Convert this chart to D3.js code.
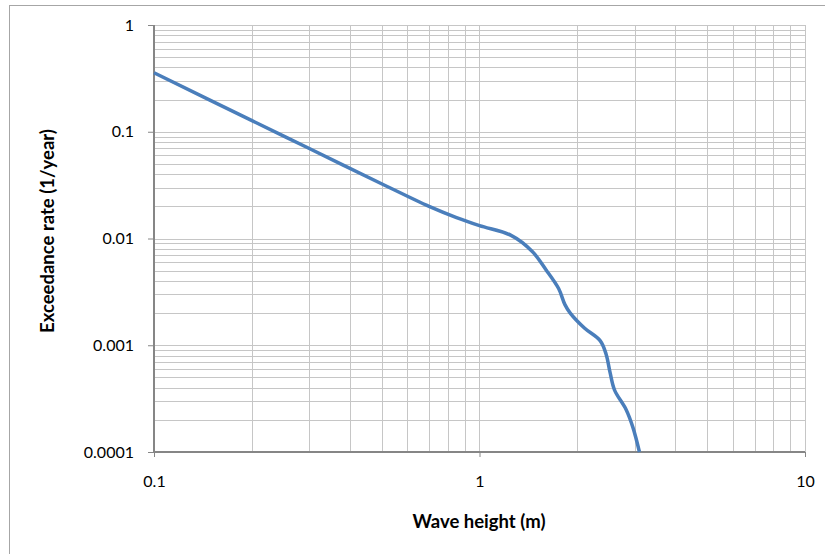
<!DOCTYPE html>
<html>
<head>
<meta charset="utf-8">
<script src="https://cdn.jsdelivr.net/npm/d3@7"></script>
<style>
  html, body { margin: 0; padding: 0; background: #fff; }
  svg { display: block; }
  text { font-family: Lato, "Liberation Sans", Arial, sans-serif; fill: #000; }
</style>
</head>
<body>
<svg id="chart" width="825" height="554"></svg>
<script>
// ---- data ----
const waveHeight = [0.1, 0.2, 0.3, 0.5, 0.7, 0.85, 1.0, 1.25, 1.45, 1.6, 1.75, 1.83, 1.9, 2.1, 2.35, 2.45, 2.52, 2.6, 2.82, 2.96, 3.1];
const exceedanceRate = [0.357, 0.127, 0.0696, 0.0326, 0.0200, 0.0157, 0.0132, 0.0107, 0.0076, 0.0051, 0.0034, 0.0024, 0.0020, 0.00145, 0.0011, 0.00082, 0.00055, 0.00038, 0.00025, 0.00017, 0.0001];
const xTickValues = [0.1, 1, 10];
const xTickLabels = ["0.1", "1", "10"];
const yTickValues = [1, 0.1, 0.01, 0.001, 0.0001];
const yTickLabels = ["1", "0.1", "0.01", "0.001", "0.0001"];
const xTitle = "Wave height (m)";
const yTitle = "Exceedance rate (1/year)";

// ---- layout ----
const svg = d3.select("#chart");
const plot = { left: 154, right: 805, top: 25, bottom: 452 };

const x = d3.scaleLog().domain([0.1, 10]).range([plot.left, plot.right]);
const y = d3.scaleLog().domain([0.0001, 1]).range([plot.bottom, plot.top]);

// outer chart border
svg.append("rect")
  .attr("x", 9.5).attr("y", 5.5)
  .attr("width", 840).attr("height", 580)
  .attr("fill", "#fff").attr("stroke", "#a6a6a6").attr("stroke-width", 1);

function logGrid(lo, hi) {
  const vals = [];
  for (let e = Math.round(Math.log10(lo)); e < Math.round(Math.log10(hi)); e++) {
    for (let m = 1; m <= 9; m++) vals.push(m * Math.pow(10, e));
  }
  vals.push(hi);
  return vals;
}
const xGrid = logGrid(0.1, 10);
const yGrid = logGrid(0.0001, 1);

const g = svg.append("g");
g.selectAll("line.vx").data(xGrid).enter().append("line")
  .attr("x1", d => Math.round(x(d)) + 0.5).attr("x2", d => Math.round(x(d)) + 0.5)
  .attr("y1", plot.top).attr("y2", plot.bottom)
  .attr("stroke", "#c6c6c6").attr("stroke-width", 1);
g.selectAll("line.hy").data(yGrid).enter().append("line")
  .attr("y1", d => Math.round(y(d)) + 0.5).attr("y2", d => Math.round(y(d)) + 0.5)
  .attr("x1", plot.left).attr("x2", plot.right)
  .attr("stroke", "#c6c6c6").attr("stroke-width", 1);

// axes
const xAxis = d3.axisBottom(x).tickValues(xTickValues).tickSize(5)
  .tickFormat((d, i) => xTickLabels[i]);
const yAxis = d3.axisLeft(y).tickValues(yTickValues).tickSize(6)
  .tickFormat((d, i) => yTickLabels[i]);

const gx = svg.append("g").attr("transform", `translate(0,${plot.bottom})`).call(xAxis);
const gy = svg.append("g").attr("transform", `translate(${plot.left},0)`).call(yAxis);
[gx, gy].forEach(a => {
  a.select(".domain").attr("stroke", "#868686").attr("stroke-width", 2);
  a.selectAll(".tick line").attr("stroke", "#868686");
  a.selectAll(".tick text").style("font-family", "Lato, 'Liberation Sans', Arial, sans-serif")
    .style("font-size", "16px").attr("fill", "#000");
});
gx.select(".domain").attr("d", `M${plot.left},0H${plot.right}`);
gy.select(".domain").attr("d", `M0,${plot.bottom}V${plot.top}`);
gx.selectAll(".tick text").attr("y", 24);
gy.selectAll(".tick text").attr("x", -20);

// curve
const line = d3.line()
  .x(d => x(d[0])).y(d => y(d[1]))
  .curve(d3.curveCatmullRom.alpha(0.5));
svg.append("path")
  .datum(waveHeight.map((w, i) => [w, exceedanceRate[i]]))
  .attr("d", line)
  .attr("fill", "none")
  .attr("stroke", "#4a7ebb")
  .attr("stroke-width", 3.5)
  .attr("stroke-linejoin", "round");

// titles
svg.append("text")
  .attr("x", 479).attr("y", 528)
  .attr("text-anchor", "middle")
  .style("font-size", "18.5px").style("font-weight", "bold")
  .text(xTitle);
svg.append("text")
  .attr("transform", `translate(54,231) rotate(-90)`)
  .attr("text-anchor", "middle")
  .style("font-size", "18.5px").style("font-weight", "bold")
  .text(yTitle);
</script>
</body>
</html>
